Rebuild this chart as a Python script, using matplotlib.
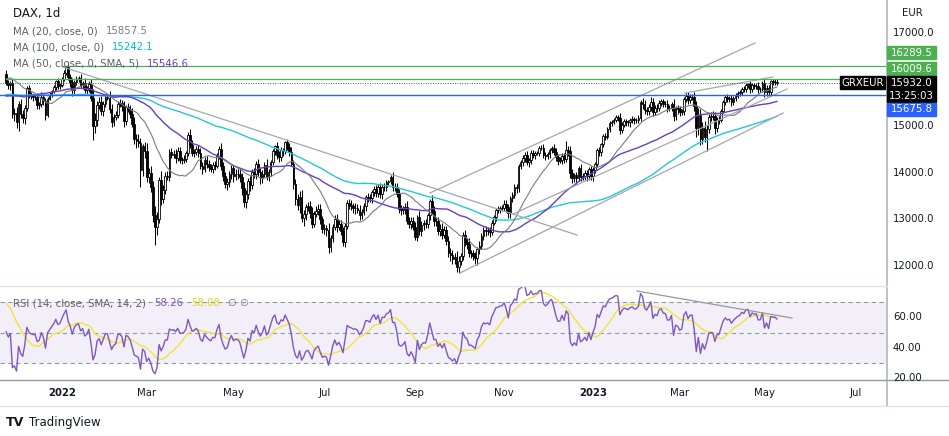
import numpy as np
import pandas as pd
import matplotlib
matplotlib.use("Agg")
import matplotlib.pyplot as plt
from matplotlib.patches import Rectangle
from matplotlib.lines import Line2D
from matplotlib.transforms import blended_transform_factory

# ── data: DAX daily closes ────────────────────────────────────────────────────
# warm-up history (Jul - Nov 22 2021), only used for the moving averages / RSI
close_hist = [
    15600, 15650, 15500, 15700, 15420, 15690, 15790, 15790, 15780, 15630, 15540,
    15130, 15220, 15420, 15510, 15670, 15620, 15520, 15570, 15640, 15540,
    15570, 15560, 15690, 15690, 15760, 15740, 15770, 15820, 15940, 15980, 15920,
    15960, 15920, 15770, 15810, 15850, 15900, 15860, 15790, 15850, 15840, 15830,
    15820, 15840, 15780, 15930, 15840, 15740, 15620, 15610, 15700, 15720, 15720,
    15650, 15490, 15130, 15350, 15510, 15640, 15530, 15570, 15250, 15370, 15260,
    15160, 15040, 15190, 14970, 15250, 15210, 15200, 15150, 15150, 15460, 15590,
    15470, 15520, 15520, 15540, 15600, 15760, 15710, 15700, 15690, 15690,
    15810, 15950, 15960, 16030, 16050, 16050, 16040, 16070, 16080, 16100, 16150,
    16250, 16250, 16220, 16160, 16120,
]

# visible candles, 2021-11-23 .. 2023-05-10
close = [
    15937, 15878, 15917, 15257, 15281, 15100,                                   # Nov 21
    15473, 15263, 15170, 15386, 15813, 15687, 15639, 15623, 15622, 15453, 15476,
    15636, 15532, 15240, 15593, 15676, 15756, 15836, 15964, 15852, 15885,       # Dec 21
    16021, 16152, 16271, 16052, 15948, 15768, 15942, 16010, 16031, 15883, 15934,
    15773, 15810, 15912, 15603, 15011, 15123, 15459, 15524, 15318, 15471,       # Jan 22
    15619, 15613, 15368, 15100, 15206, 15242, 15482, 15490, 15425, 15114, 15412,
    15371, 15268, 15042, 14731, 14693, 14631, 14052, 14567, 14461,              # Feb 22
    13905, 14000, 13698, 13094, 12835, 13016, 13848, 13442, 13628, 13929, 13917,
    14441, 14388, 14413, 14326, 14474, 14283, 14273, 14306, 14418, 14820, 14606,
    14415,                                                                      # Mar 22
    14447, 14518, 14424, 14152, 14078, 14284, 14193, 14124, 14076, 14164, 14154,
    14362, 14502, 14142, 13924, 13757, 13793, 13979, 14098,                     # Apr 22
    13940, 13971, 13970, 13902, 13674, 13381, 13535, 13828, 13739, 14027, 13964,
    14186, 14008, 13882, 13982, 14175, 13919, 14008, 14232, 14462, 14575, 14388,  # May 22
    14340, 14485, 14460, 14653, 14556, 14446, 14198, 13762, 13428, 13304, 13483,
    13038, 13126, 13265, 13292, 13145, 12912, 13118, 13186, 13231, 13003, 12784,  # Jun 22
    12813, 12773, 12401, 12595, 12843, 13015, 12832, 12905, 12756, 12519, 12864,
    13360, 13308, 13282, 13246, 13254, 13210, 13097, 13166, 13282, 13484,       # Jul 22
    13479, 13449, 13587, 13662, 13574, 13688, 13535, 13700, 13694, 13795, 13816,
    13910, 13697, 13697, 13544, 13230, 13194, 13220, 13271, 12971, 12893, 12961,
    12834,                                                                      # Aug 22
    12631, 13050, 12761, 12872, 12916, 12904, 13088, 13403, 13189, 12956, 12957,
    12741, 12803, 12671, 12767, 12532, 12284, 12227, 12140, 12183, 11976, 12114,  # Sep 22
    12209, 12670, 12518, 12471, 12273, 12272, 12220, 12173, 12356, 12438, 12649,
    12765, 12741, 12767, 12731, 12931, 13052, 13195, 13211, 13243, 13254,       # Oct 22
    13339, 13257, 13130, 13460, 13533, 13688, 13666, 14146, 14225, 14314, 14379,
    14234, 14267, 14431, 14379, 14422, 14428, 14539, 14541, 14383, 14355, 14397,  # Nov 22
    14490, 14529, 14448, 14343, 14261, 14264, 14370, 14306, 14498, 14461, 13987,
    13894, 13943, 13885, 14098, 13914, 13941, 13995, 13925, 14071, 13924,       # Dec 22
    14069, 14181, 14490, 14436, 14610, 14792, 14775, 14947, 15058, 15087, 15134,
    15187, 15181, 14920, 15033, 15103, 15093, 15081, 15132, 15150, 15126, 15128,  # Jan 23
    15181, 15509, 15476, 15345, 15320, 15412, 15523, 15308, 15397, 15380, 15507,
    15534, 15482, 15478, 15399, 15400, 15476, 15210, 15381, 15365,              # Feb 23
    15305, 15328, 15578, 15654, 15559, 15631, 15633, 15428, 14959, 15233, 14735,
    14968, 14768, 14933, 15195, 15216, 15210, 14957, 15128, 15142, 15329, 15522,
    15629,                                                                      # Mar 23
    15581, 15603, 15520, 15598, 15655, 15703, 15729, 15808, 15790, 15883, 15896,
    15796, 15882, 15863, 15872, 15796, 15800, 15922,                            # Apr 23
    15727, 15815, 15734, 15961, 15953, 15955, 15932,                            # May 23
]

# wick length beyond the body, in tens of points
wick_hi = [
    8, 6, 5, 10, 12, 14,
    6, 10, 8, 6, 4, 7, 5, 6, 8, 9, 5, 10, 6, 8, 4, 5, 3, 4, 3, 6, 4,
    4, 5, 2, 10, 6, 8, 4, 6, 5, 8, 4, 9, 6, 5, 10, 20, 15, 8, 10, 12, 6,
    6, 8, 14, 10, 6, 8, 5, 10, 7, 12, 5, 8, 9, 12, 15, 10, 14, 12, 6, 10,
    18, 10, 15, 12, 20, 14, 6, 20, 12, 8, 10, 6, 9, 8, 10, 7, 8, 6, 8, 6, 5, 12, 10,
    6, 5, 8, 10, 8, 5, 7, 9, 6, 6, 8, 6, 8, 14, 8, 10, 9, 6, 8,
    8, 10, 12, 14, 10, 12, 10, 7, 10, 5, 8, 6, 10, 9, 8, 5, 12, 8, 4, 4, 3, 9,
    8, 6, 5, 4, 8, 9, 10, 8, 10, 12, 12, 14, 8, 7, 9, 10, 12, 6, 10, 9, 10, 8,
    9, 6, 15, 8, 6, 7, 10, 8, 9, 8, 5, 6, 8, 10, 8, 9, 7, 10, 6, 8, 5,
    8, 7, 5, 6, 8, 7, 9, 6, 8, 5, 4, 4, 10, 8, 9, 10, 8, 7, 8, 12, 9, 8, 10,
    12, 5, 14, 10, 8, 9, 6, 4, 12, 10, 8, 9, 10, 12, 9, 10, 12, 10, 12, 10, 14, 10,
    8, 5, 10, 9, 12, 7, 8, 9, 6, 10, 6, 8, 10, 7, 8, 6, 5, 6, 8, 5, 6,
    7, 8, 8, 5, 6, 7, 8, 4, 5, 6, 6, 8, 5, 5, 6, 5, 4, 4, 5, 8, 6, 6,
    5, 5, 8, 9, 6, 7, 6, 5, 18, 8, 12, 9, 6, 8, 5, 10, 6, 7, 6, 5, 8,
    6, 5, 4, 7, 4, 5, 6, 4, 5, 4, 5, 6, 6, 10, 6, 5, 6, 5, 4, 6, 5, 5,
    6, 6, 10, 8, 6, 6, 10, 8, 6, 7, 5, 6, 6, 5, 8, 6, 5, 10, 6, 7,
    6, 5, 4, 5, 8, 5, 6, 10, 12, 16, 14, 12, 15, 10, 6, 8, 10, 9, 6, 7, 5, 4, 4,
    6, 5, 7, 5, 5, 5, 4, 4, 5, 4, 4, 8, 5, 5, 5, 7, 5, 4,
    9, 6, 7, 4, 5, 5, 6,
]
wick_lo = [
    6, 8, 10, 8, 15, 14,
    20, 8, 10, 12, 5, 8, 6, 9, 7, 8, 9, 6, 8, 10, 5, 4, 5, 4, 5, 6, 5,
    4, 6, 5, 6, 10, 12, 8, 5, 6, 6, 8, 6, 10, 8, 7, 30, 15, 12, 9, 8, 10,
    5, 6, 8, 12, 9, 7, 6, 8, 10, 14, 8, 7, 10, 6, 12, 16, 8, 35, 12, 15,
    10, 12, 10, 15, 39, 18, 10, 14, 10, 9, 8, 10, 6, 8, 12, 7, 8, 9, 7, 8, 6, 8, 6,
    7, 6, 9, 6, 10, 7, 8, 9, 6, 7, 9, 6, 7, 8, 10, 8, 12, 10, 12,
    14, 10, 10, 9, 15, 12, 14, 9, 12, 8, 7, 9, 8, 12, 10, 8, 7, 10, 8, 6, 8, 9,
    10, 8, 9, 6, 7, 8, 6, 10, 12, 10, 16, 10, 18, 14, 8, 12, 9, 8, 6, 10, 10, 8,
    10, 12, 12, 10, 8, 8, 10, 7, 9, 10, 12, 6, 8, 9, 10, 12, 8, 10, 9, 8, 10,
    10, 8, 9, 8, 10, 9, 8, 10, 9, 8, 6, 5, 8, 9, 7, 10, 9, 8, 10, 6, 8, 10, 7,
    8, 10, 10, 12, 9, 8, 8, 10, 8, 9, 10, 8, 10, 9, 8, 9, 10, 12, 10, 9, 11, 12,
    10, 9, 8, 10, 8, 9, 10, 12, 16, 9, 8, 10, 9, 8, 10, 7, 6, 8, 6, 8, 7,
    8, 10, 9, 10, 8, 7, 9, 8, 6, 7, 8, 6, 10, 7, 6, 8, 5, 6, 6, 7, 8, 6,
    8, 7, 6, 8, 10, 6, 8, 9, 8, 10, 9, 12, 10, 12, 6, 8, 7, 9, 10, 8, 7,
    10, 8, 6, 8, 7, 6, 8, 6, 7, 6, 5, 5, 6, 8, 7, 6, 8, 7, 9, 6, 8, 6,
    7, 8, 10, 8, 9, 7, 8, 9, 7, 8, 6, 7, 8, 6, 9, 8, 7, 9, 8, 10,
    8, 6, 8, 5, 8, 7, 6, 10, 20, 14, 14, 12, 10, 31, 8, 9, 8, 12, 8, 9, 6, 5, 6,
    6, 7, 8, 6, 6, 5, 6, 5, 6, 5, 7, 8, 6, 7, 6, 9, 7, 6,
    10, 8, 9, 6, 6, 7, 5,
]

start_date = "2021-11-23"
holidays = ["2021-12-24", "2021-12-31", "2022-04-15", "2022-04-18",
            "2022-12-26", "2023-04-07", "2023-04-10", "2023-05-01"]

# horizontal levels
lvl_green = [16289.5, 16009.6]
lvl_green_start = [27, 0]          # bar index where the ray starts
lvl_blue = 15675.8
last_price = 15932.0

# trend lines: (bar0, price0, bar1, price1)
trend_lines = [
    (27.5, 16270, 276.3, 12665),   # falling line from Jan-22 high
    (219.6, 11850, 376.0, 15283),  # channel support
    (205.1, 13567, 362.4, 16785),  # channel top
    (245.3, 13116, 377.9, 15798),  # inner rising line
    (328.5, 15712, 371.1, 16056),  # wedge top
]
rsi_line = (305.3, 77.2, 380.3, 59.5)

legend_ma = [("MA (20, close, 0)", "15857.5", "#787b86"),
             ("MA (100, close, 0)", "15242.1", "#00bcd4"),
             ("MA (50, close, 0, SMA, 5)", "15546.6", "#6a3dc0")]

assert len(close) == len(wick_hi) == len(wick_lo), (len(close), len(wick_hi), len(wick_lo))

# ── indicators ────────────────────────────────────────────────────────────────
allc = pd.Series(close_hist + close, dtype=float)
nh = len(close_hist)
ma20 = allc.rolling(20).mean().values[nh:]
ma50 = allc.rolling(50).mean().values[nh:]
ma100 = allc.rolling(100).mean().values[nh:]

d = allc.diff()
gain = d.clip(lower=0).ewm(alpha=1 / 14, adjust=False).mean()
loss = (-d.clip(upper=0)).ewm(alpha=1 / 14, adjust=False).mean()
rsi_all = 100 - 100 / (1 + gain / loss)
rsi_ma = rsi_all.rolling(14).mean().values[nh:]
rsi = rsi_all.values[nh:]

c = np.array(close, dtype=float)
o = np.r_[close_hist[-1], c[:-1]]
h = np.maximum(o, c) + np.array(wick_hi) * 10
lo = np.minimum(o, c) - np.array(wick_lo) * 10
x = np.arange(len(c))
up = c >= o

# ── figure ────────────────────────────────────────────────────────────────────
W, H = 949, 436
fig = plt.figure(figsize=(W / 100, H / 100), dpi=100)
fig.patch.set_facecolor("white")

def fx(px):
    return px / W

def fy(py):
    return 1 - py / H

RIGHT = 887
ax = fig.add_axes([0, fy(286), fx(RIGHT), fy(0) - fy(286)])
ax2 = fig.add_axes([0, fy(380), fx(RIGHT), fy(286) - fy(380)])

x_left, x_right = -3.0, 426.3
for a in (ax, ax2):
    a.set_xlim(x_left, x_right)
    a.set_xticks([])
    a.set_yticks([])
    for s in a.spines.values():
        s.set_visible(False)
ax.set_ylim(11571, 17708)
ax2.set_ylim(18.85, 80.5)

# candles
ax.vlines(x, lo, h, color="black", lw=0.75, zorder=2)
ax.bar(x[up], (c - o)[up], bottom=o[up], width=0.8, color="white",
       edgecolor="black", lw=0.6, zorder=3)
ax.bar(x[~up], (o - c)[~up], bottom=c[~up], width=0.8, color="black",
       edgecolor="black", lw=0.6, zorder=3)

# moving averages
ax.plot(x, ma100, color="#26c6da", lw=1.0, zorder=4)
ax.plot(x, ma50, color="#6a3dc0", lw=1.0, zorder=4)
ax.plot(x, ma20, color="#787b86", lw=0.8, zorder=4)

# drawings
for b0, p0, b1, p1 in trend_lines:
    ax.plot([b0, b1], [p0, p1], color="#a3a6af", lw=0.9, zorder=5)
for lv, b0 in zip(lvl_green, lvl_green_start):
    ax.plot([b0, x_right], [lv, lv], color="#4caf50", lw=0.9, zorder=5)
ax.axhline(lvl_blue, color="#2962ff", lw=1.0, zorder=5)
ax.axhline(last_price, color="#555555", lw=0.7, ls=(0, (1, 1.5)), zorder=5)

# RSI panel
ax2.axhspan(30, 70, color="#7e57c2", alpha=0.09, lw=0)
for lv in (70, 50, 30):
    ax2.axhline(lv, color="#9598a1", lw=0.8, ls=(0, (4, 3)))
ax2.plot(x, rsi, color="#7e57c2", lw=1.0, zorder=4)
ax2.plot(x, rsi_ma, color="#f2e33a", lw=1.0, zorder=3)
ax2.plot([rsi_line[0], rsi_line[2]], [rsi_line[1], rsi_line[3]],
         color="#9598a1", lw=0.9, zorder=5)

# ── separators ────────────────────────────────────────────────────────────────
def fline(x0, y0, x1, y1, color, lw=1.0):
    fig.add_artist(Line2D([fx(x0), fx(x1)], [fy(y0), fy(y1)], color=color,
                          lw=lw, transform=fig.transFigure))

fline(RIGHT, 0, RIGHT, 406, "#b2b5be", 1.2)
fline(0, 286, RIGHT, 286, "#e0e3eb", 1.0)
fline(0, 380, W, 380, "#9598a1", 1.0)
fline(0, 406, W, 406, "#e0e3eb", 1.0)

# ── legends ───────────────────────────────────────────────────────────────────
TXT = "#131722"
fig.text(fx(13), fy(14), "DAX, 1d", fontsize=8.5, color=TXT, va="center")
for i, (lab, val, col) in enumerate(legend_ma):
    yy = fy(31 + 16.5 * i)
    t = fig.text(fx(13), yy, lab, fontsize=7.3, color="#5d606b", va="center")
    fig.canvas.draw()
    bb = t.get_window_extent()
    fig.text(fx(bb.x1 + 8), yy, val, fontsize=7.3, color=col, va="center")

t = fig.text(fx(13), fy(303), "RSI (14, close, SMA, 14, 2)", fontsize=7.3,
             color="#5d606b", va="center")
fig.canvas.draw()
xx = t.get_window_extent().x1 + 8
for val, col in (("58.26", "#7e57c2"), ("58.08", "#e6d21e"), ("∅ ∅", "#787b86")):
    t = fig.text(fx(xx), fy(303), val, fontsize=7.3, color=col, va="center")
    fig.canvas.draw()
    xx = t.get_window_extent().x1 + 8

# ── price scale ───────────────────────────────────────────────────────────────
ytr = blended_transform_factory(fig.transFigure, ax.transData)
fig.text(fx(902), fy(13), "EUR", fontsize=7.3, color=TXT, va="center")
for p in (17000, 15000, 14000, 13000, 12000):
    fig.text(fx(893), p, f"{p:.1f}", transform=ytr, fontsize=7.3,
             color=TXT, va="center")
ytr2 = blended_transform_factory(fig.transFigure, ax2.transData)
for p in (60, 40, 20):
    fig.text(fx(893), p, f"{p:.2f}", transform=ytr2, fontsize=7.3,
             color=TXT, va="center")

def tag(x0, x1, y0, y1, color, lines):
    fig.patches.append(Rectangle((fx(x0), fy(y1)), fx(x1 - x0), fy(y0) - fy(y1),
                                 transform=fig.transFigure, color=color, zorder=5))
    n = len(lines)
    for k, s in enumerate(lines):
        yc = y0 + (y1 - y0) * (k + 0.5) / n
        fig.text(fx((x0 + x1) / 2), fy(yc), s, fontsize=7.3, color="white",
                 ha="center", va="center", zorder=6)

tag(887, 936, 46, 59, "#4caf50", ["16289.5"])
tag(887, 936, 62, 75, "#4caf50", ["16009.6"])
tag(887, 936, 76, 102, "#000000", ["15932.0", "13:25:03"])
tag(887, 936, 103, 116, "#2962ff", ["15675.8"])
tag(840, 885, 76, 89, "#000000", ["GRXEUR"])

# ── time scale ────────────────────────────────────────────────────────────────
dates = pd.bdate_range(start_date, periods=len(c) + 70, freq="C", holidays=holidays)
mon = dates.month.values
xtr = blended_transform_factory(ax.transData, fig.transFigure)
for i in range(1, len(dates)):
    if mon[i] != mon[i - 1] and mon[i] % 2 == 1 and i < x_right:
        lab = str(dates[i].year) if mon[i] == 1 else dates[i].strftime("%b")
        fig.text(i, fy(393), lab, transform=xtr, fontsize=7.3, color=TXT,
                 ha="center", va="center",
                 fontweight="bold" if mon[i] == 1 else "normal")

# ── TradingView mark ──────────────────────────────────────────────────────────
fig.text(fx(6), fy(422), "TV", fontsize=9, fontweight="bold", color=TXT, va="center")
fig.text(fx(29), fy(422), "TradingView", fontsize=8.5, color=TXT, va="center")

fig.savefig("out.png", dpi=100, facecolor="white")
